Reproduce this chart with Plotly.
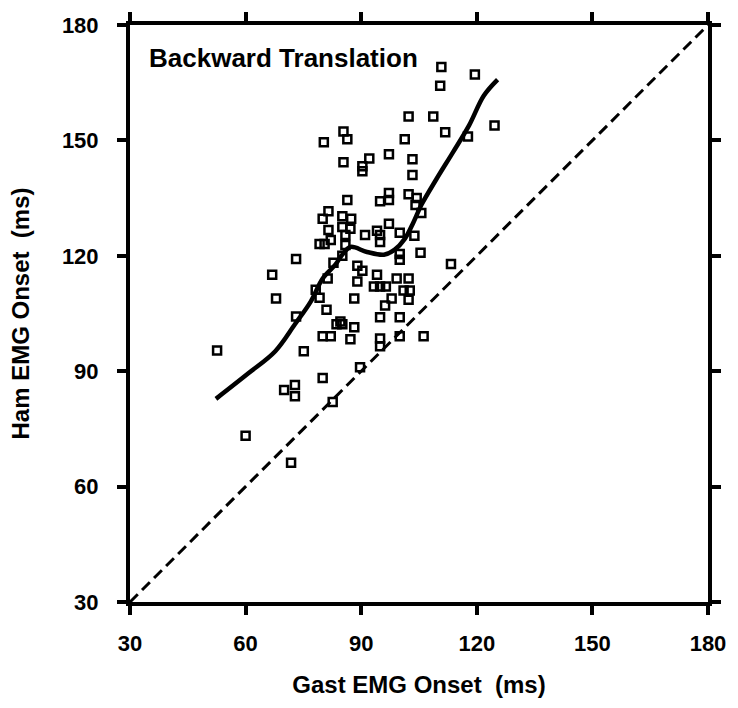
import plotly.graph_objects as go

# Scatter data: Gast EMG onset (x) vs Ham EMG onset (y), ms
gast_onset = [110.8, 119.5, 110.5, 102.3, 108.7, 111.8, 117.7, 85.4, 86.4, 101.3,
              80.3, 85.4, 92.1, 97.2, 90.3, 90.3, 103.3, 103.3, 86.4, 94.9,
              97.2, 97.2, 102.3, 104.4, 104.1, 105.6, 81.5, 85.1, 87.4, 97.2,
              85.1, 87.2, 80.0, 81.5, 82.1, 79.2, 80.5, 73.1, 66.9, 82.8,
              78.2, 79.2, 67.9, 81.0, 73.1, 83.6, 80.0, 82.1, 52.6, 75.1,
              80.0, 70.0, 72.8, 72.8, 82.6, 60.0, 71.8, 85.9, 85.9, 91.0,
              94.1, 94.9, 94.9, 100.0, 103.8, 105.4, 100.0, 100.0, 85.1, 89.0,
              90.3, 89.0, 94.1, 93.3, 94.9, 96.4, 99.2, 102.3, 101.0, 102.6,
              102.3, 113.3, 97.9, 88.2, 96.2, 94.9, 100.0, 84.6, 85.1, 88.2,
              87.2, 94.9, 94.9, 100.0, 106.2, 89.7, 124.6, 81.3]
ham_onset = [169.1, 167.1, 164.2, 156.2, 156.2, 152.1, 151.0, 152.3, 150.3, 150.3,
             149.5, 144.3, 145.3, 146.4, 143.3, 142.0, 145.1, 141.0, 134.5, 134.2,
             134.5, 136.3, 136.0, 135.0, 133.2, 131.1, 131.6, 130.3, 129.6, 128.3,
             127.5, 127.0, 129.6, 126.7, 124.1, 123.1, 123.1, 119.2, 115.1, 118.2,
             111.2, 109.1, 108.9, 106.0, 104.2, 102.2, 99.1, 99.1, 95.4, 95.2,
             88.2, 85.1, 86.4, 83.5, 82.0, 73.2, 66.2, 125.4, 122.8, 125.4,
             126.5, 125.4, 123.6, 126.0, 125.2, 120.8, 120.5, 119.0, 120.0, 117.4,
             116.1, 113.3, 115.1, 112.0, 112.0, 112.0, 114.1, 114.1, 111.0, 111.0,
             108.6, 117.9, 108.9, 108.9, 107.1, 104.0, 104.0, 102.9, 102.2, 101.4,
             98.3, 98.5, 96.5, 99.1, 99.1, 91.0, 153.9, 114.1]

# Smoothed trend curve
curve_x = [52.3, 60.8, 67.7, 72.8, 76.9, 80.0, 83.3, 85.1, 87.2, 91.5,
           95.9, 98.7, 101.3, 103.6, 105.6, 109.5, 113.8, 118.0, 121.8, 125.4]
curve_y = [82.8, 89.5, 95.2, 102.2, 108.1, 114.1, 117.7, 120.3, 122.3, 121.0,
           120.3, 121.6, 124.4, 128.8, 133.2, 139.9, 146.9, 153.9, 161.6, 165.8]

# Identity line
identity = [30, 180]

tick_vals = [30, 60, 90, 120, 150, 180]
tick_text = ["30", "60", "90", "120", "150", "180"]

FONT = "Liberation Sans, Arial, sans-serif"

fig = go.Figure()
fig.add_trace(go.Scatter(x=identity, y=identity, mode="lines",
                         line=dict(color="black", width=3, dash="11px,6px"),
                         hoverinfo="skip", showlegend=False))
fig.add_trace(go.Scatter(x=curve_x, y=curve_y, mode="lines",
                         line=dict(color="black", width=4.5, shape="spline", smoothing=1.0),
                         showlegend=False))
fig.add_trace(go.Scatter(x=gast_onset, y=ham_onset, mode="markers",
                         marker=dict(symbol="square-open", size=8, color="black",
                                     line=dict(color="black", width=2.5)),
                         showlegend=False))

axis_common = dict(
    range=[30, 180], tickvals=tick_vals, ticktext=tick_text,
    showgrid=False, zeroline=False,
    showline=True, linecolor="black", linewidth=4, mirror="ticks",
    ticks="outside", ticklen=9, tickwidth=4, tickcolor="black",
    tickfont=dict(family=FONT, size=22, color="black", weight="bold"),
)

fig.update_xaxes(**axis_common, ticklabelstandoff=10,
                 title=dict(text="<b>Gast EMG Onset  (ms)</b>", standoff=22,
                            font=dict(family=FONT, size=24, color="black")))
fig.update_yaxes(**axis_common, ticklabelstandoff=14,
                 title=dict(text="<b>Ham EMG Onset  (ms)</b>", standoff=26,
                            font=dict(family=FONT, size=24, color="black")))

fig.add_annotation(text="<b>Backward Translation</b>", xref="paper", yref="paper",
                   x=0.03, y=0.973, xanchor="left", yanchor="top", showarrow=False,
                   font=dict(family=FONT, size=26, color="black"))

fig.update_layout(width=738, height=708, plot_bgcolor="white", paper_bgcolor="white",
                  margin=dict(l=130, r=23, t=22, b=106))

fig.write_html("out.html")
